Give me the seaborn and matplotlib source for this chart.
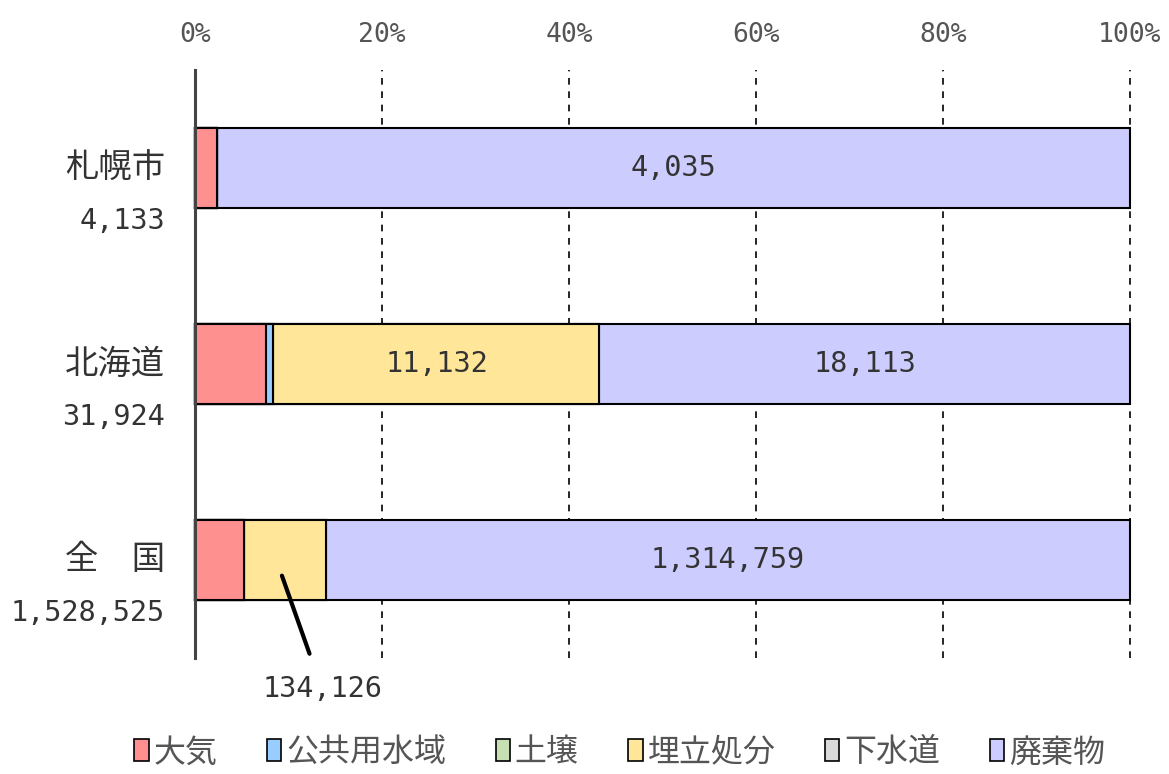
import matplotlib
matplotlib.use("Agg")
import matplotlib.pyplot as plt
import seaborn as sns
import numpy as np
import pandas as pd
from matplotlib.patches import Patch

# ---- data ----
regions = ["札幌市", "北海道", "全\u3000国"]
totals = [4133, 31924, 1528525]
total_labels = ["4,133", "31,924", "1,528,525"]
categories = ["大気", "公共用水域", "土壌", "埋立処分", "下水道", "廃棄物"]
taiki = [98, 2440, 79640]
kokyo = [0, 239, 0]
dojo = [0, 0, 0]
umetate = [0, 11132, 134126]
gesui = [0, 0, 0]
haiki = [4035, 18113, 1314759]
colors = ["#FF9090", "#99CCFF", "#C6E0B4", "#FFE699", "#D9D9D9", "#CCCCFF"]
ticks = [0, 20, 40, 60, 80, 100]
tick_labels = ["0%", "20%", "40%", "60%", "80%", "100%"]

sns.set_theme(style="white")
CJK = ["Noto Sans CJK JP", "DejaVu Sans"]
NUM = ["DejaVu Sans Mono", "Noto Sans CJK JP"]
plt.rcParams["font.family"] = CJK
TXT = "#333333"

series = [taiki, kokyo, dojo, umetate, gesui, haiki]
vals = np.array(series, dtype=float)  # (6, 3)
pct = vals / vals.sum(axis=0) * 100
cum = np.cumsum(pct, axis=0)

fig = plt.figure(figsize=(11.69, 7.74), dpi=100)
ax = fig.add_axes([0.1668, 0.1499, 0.7998, 0.7597])

for i in reversed(range(len(categories))):
    df = pd.DataFrame({"region": regions, "value": cum[i]})
    sns.barplot(data=df, x="value", y="region", orient="h", color=colors[i],
                saturation=1, width=0.41, edgecolor="black", linewidth=1.5,
                zorder=3, ax=ax)
for p in ax.patches:
    p.set_clip_on(False)

ax.set_xlim(0, 100)
ax.set_ylim(2.5, -0.5)
ax.set_xlabel("")
ax.set_ylabel("")
ax.set_yticks([])
ax.xaxis.tick_top()
ax.set_xticks(ticks)
ax.set_xticklabels(tick_labels, family=NUM, fontsize=19, color="#555555")
ax.tick_params(axis="x", length=0, pad=16)
ax.grid(axis="x", color="black", linestyle=(0, (4, 4)), linewidth=1.2)
for gl in ax.get_xgridlines():
    gl.set_clip_on(False)
    gl.set_zorder(0.5)
ax.set_axisbelow(True)
for s in ["top", "right", "bottom"]:
    ax.spines[s].set_visible(False)
ax.spines["left"].set_color("#444444")
ax.spines["left"].set_linewidth(2.2)
ax.spines["left"].set_zorder(4)

# category labels
for i, (r, t) in enumerate(zip(regions, total_labels)):
    ax.text(-0.032, i, r, transform=ax.get_yaxis_transform(), ha="right",
            va="center", fontsize=24, color=TXT, family=CJK)
    ax.text(-0.032, i + 0.27, t, transform=ax.get_yaxis_transform(), ha="right",
            va="center", fontsize=20.5, color=TXT, family=NUM)

# in-bar labels
def fmt(v):
    return f"{int(v):,}"

label_cells = [(5, 0), (3, 1), (5, 1), (5, 2)]
for (si, ri) in label_cells:
    start = cum[si - 1, ri] if si > 0 else 0
    xc = (start + cum[si, ri]) / 2
    ax.text(xc, ri, fmt(vals[si, ri]), ha="center", va="center",
            fontsize=20.5, color=TXT, family=NUM, zorder=5)

# callout for 全国 埋立処分
xc = (cum[2, 2] + cum[3, 2]) / 2
ax.annotate(fmt(vals[3, 2]), xy=(xc - 0.3, 2.08), xytext=(xc + 4.0, 2.66),
            ha="center", va="center", fontsize=20.5, color=TXT, family=NUM,
            annotation_clip=False, zorder=6,
            arrowprops=dict(arrowstyle="-", color="black", lw=3,
                            shrinkA=14, shrinkB=0))

handles = [Patch(facecolor=c, edgecolor="black", linewidth=1.2) for c in colors]
fig.legend(handles, categories, loc="center", bbox_to_anchor=(0.530, 0.028),
           ncol=6, frameon=False, fontsize=23, handlelength=0.45,
           handleheight=0.65, handletextpad=0.15, columnspacing=1.55,
           labelcolor="#555555")

fig.savefig("out.png", dpi=100, facecolor="white")
